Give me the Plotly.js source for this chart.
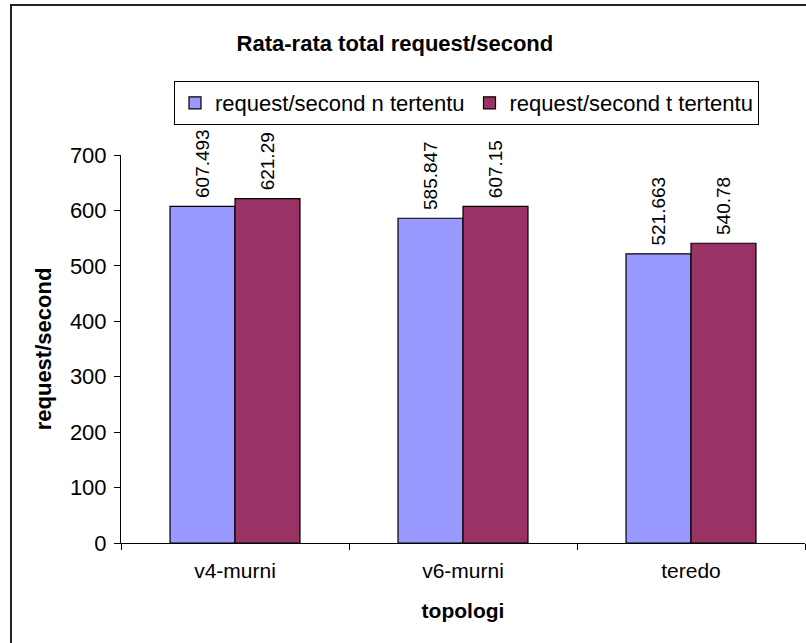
<!DOCTYPE html>
<html>
<head>
<meta charset="utf-8">
<script src="https://cdn.plot.ly/plotly-3.0.1.min.js"></script>
<style>html,body{margin:0;padding:0;background:#fff;}#chart{width:806px;height:643px;}</style>
</head>
<body>
<div id="chart"></div>
<script>
const categories = ["v4-murni", "v6-murni", "teredo"];
const seriesNames = ["request/second n tertentu", "request/second t tertentu"];
const nValues = [607.493, 585.847, 521.663];
const tValues = [621.29, 607.15, 540.78];
const nLabels = ["607.493", "585.847", "521.663"];
const tLabels = ["621.29", "607.15", "540.78"];
const yTicks = [0, 100, 200, 300, 400, 500, 600, 700];

const fontFam = "Liberation Sans, Arial, sans-serif";

function barTrace(name, vals, labels, color) {
  return {
    type: "bar",
    name: name,
    x: categories,
    y: vals,
    text: labels,
    texttemplate: "\u00a0%{text}",
    textposition: "outside",
    textangle: -90,
    constraintext: "none",
    cliponaxis: false,
    textfont: {family: fontFam, size: 19, color: "#000"},
    marker: {color: color, line: {color: "#000", width: 1.2}},
    hoverinfo: "skip"
  };
}

const data = [
  barTrace(seriesNames[0], nValues, nLabels, "#9999FF"),
  barTrace(seriesNames[1], tValues, tLabels, "#993366")
];

const layout = {
  width: 806,
  height: 643,
  margin: {l: 121, r: 1, t: 155, b: 100, pad: 0},
  paper_bgcolor: "#ffffff",
  plot_bgcolor: "rgba(0,0,0,0)",
  font: {family: fontFam, color: "#000"},
  barmode: "group",
  bargap: 0.43,
  bargroupgap: 0,
  showlegend: true,
  title: {
    text: "<b>Rata-rata total request/second</b>",
    font: {family: fontFam, size: 22, color: "#000"},
    x: 0.49, xanchor: "center",
    y: 1 - 43/643, yanchor: "middle", yref: "container"
  },
  legend: {
    orientation: "h",
    x: (174-121)/684, xanchor: "left",
    y: (543-81)/388, yanchor: "top",
    bordercolor: "#000", borderwidth: 1,
    bgcolor: "rgba(255,255,255,0)",
    font: {family: fontFam, size: 22, color: "#000"},
    itemwidth: 30,
    traceorder: "normal"
  },
  xaxis: {
    type: "category",
    showline: true, linecolor: "#000", linewidth: 1,
    ticks: "outside", tickson: "boundaries", ticklen: 6, tickcolor: "#000",
    ticklabelstandoff: 9,
    showgrid: false, zeroline: false,
    tickfont: {family: fontFam, size: 21, color: "#000"},
    title: {text: "<b>topologi</b>", font: {family: fontFam, size: 21, color: "#000"}, standoff: 22}
  },
  yaxis: {
    range: [0, 700],
    tickvals: yTicks,
    ticktext: yTicks.map(String),
    showline: true, linecolor: "#000", linewidth: 1,
    ticks: "outside", ticklen: 6, tickcolor: "#000",
    ticklabelstandoff: 3,
    showgrid: false, zeroline: false,
    tickfont: {family: fontFam, size: 22, color: "#000"},
    title: {text: "<b>request/second</b>", font: {family: fontFam, size: 22, color: "#000"}, standoff: 12}
  },
  shapes: [
    {type: "rect", xref: "paper", yref: "paper",
     x0: (11-121)/684, x1: 1.05, y0: (543-660)/388, y1: (543-5)/388,
     line: {color: "#222", width: 2}, fillcolor: "rgba(0,0,0,0)", layer: "below"}
  ]
};

Plotly.newPlot("chart", data, layout, {displayModeBar: false, staticPlot: true});
</script>
</body>
</html>
